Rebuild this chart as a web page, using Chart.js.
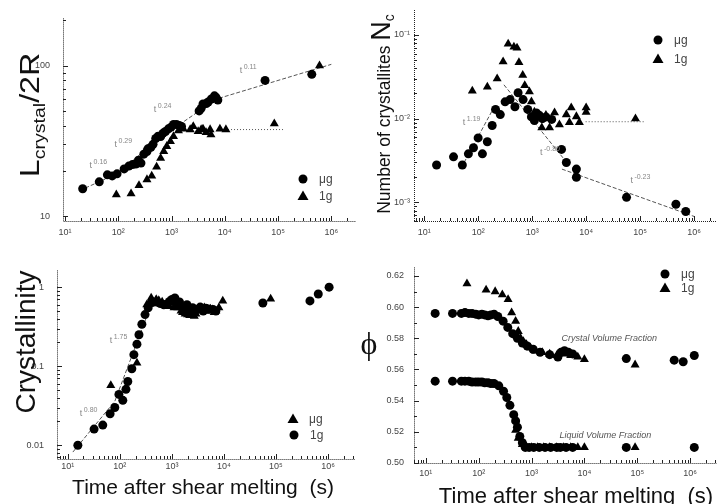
<!DOCTYPE html>
<html>
<head>
<meta charset="utf-8">
<script src="https://cdn.jsdelivr.net/npm/chart.js@4.4.1/dist/chart.umd.min.js"></script>
<style>
  body { margin: 0; background: #fff; width: 722px; height: 504px; position: relative; overflow: hidden; font-family: "Liberation Sans", Arial, sans-serif; }
  canvas { position: absolute; }
  .lab { position: absolute; color: #111; white-space: nowrap; line-height: 1; }
</style>
</head>
<body>
<canvas id="c1" width="361" height="245" style="left:0;top:0"></canvas>
<canvas id="c2" width="361" height="245" style="left:361px;top:0"></canvas>
<canvas id="c3" width="361" height="228" style="left:0;top:252px"></canvas>
<canvas id="c4" width="361" height="228" style="left:361px;top:252px"></canvas>

<div class="lab" style="left:32px;top:115px;font-size:28px;transform:translate(-50%,-50%) rotate(-90deg) scaleX(1.15)">L<sub style="font-size:17px">crystal</sub>/2R</div>
<div class="lab" style="left:382px;top:114px;font-size:17.5px;transform:translate(-50%,-50%) rotate(-90deg)">Number of crystallites <span style="font-size:27px">N</span><sub style="font-size:14px">c</sub></div>
<div class="lab" style="left:26px;top:342px;font-size:28px;transform:translate(-50%,-50%) rotate(-90deg)">Crystallinity</div>
<div class="lab" style="left:369px;top:343px;font-size:32px;font-family:'Liberation Serif',serif;transform:translate(-50%,-50%)">ϕ</div>
<div class="lab" style="left:203px;top:486px;font-size:21px;transform:translate(-50%,-50%)">Time after shear melting&nbsp;&nbsp;(s)</div>
<div class="lab" style="left:576px;top:496px;font-size:22px;transform:translate(-50%,-50%)">Time after shear melting&nbsp;&nbsp;(s)</div>

<script>
const xTickVals = [10, 100, 1000, 10000, 100000, 1000000];
const xTickText = ['10¹', '10²', '10³', '10⁴', '10⁵', '10⁶'];

// panel 1 : L_crystal / 2R
const p1YTicks = [10, 100];
const p1YText = ['10', '100'];
const p1UgT = [21.5, 44, 62.5, 77, 95, 129, 158, 185, 214, 240, 267, 302, 346, 360, 410, 450, 505, 560, 625, 690, 770, 875, 980, 1090, 1240, 1400, 1540, 3300, 3600, 3900, 4500, 4870, 5600, 6400, 6800, 7400, 57000, 430000];
const p1UgL = [15.2, 16.9, 18.8, 18.5, 19.1, 20.6, 21.5, 22, 22.2, 23.5, 22.5, 25.8, 26.9, 28, 28.7, 30, 32.8, 34, 33.8, 35.5, 36.5, 38, 39, 40.6, 40.6, 40, 39.4, 50, 52, 55.6, 56, 57.3, 60, 63, 61.6, 59, 79.8, 87.5];
const p1OneT = [92, 174, 245, 346, 425, 525, 625, 715, 815, 955, 1090, 1350, 1670, 2240, 2560, 3160, 3600, 3900, 4450, 5300, 5500, 8100, 10500, 85000, 600000];
const p1OneL = [13.9, 14.1, 16, 17.5, 18.5, 21.2, 24.3, 26.9, 29.1, 31.4, 33.8, 37, 38, 37.6, 39.4, 36.5, 37.6, 38, 36, 37.6, 34.8, 38, 37.6, 41.1, 100];
const p1FitT = [19, 100, 500, 7000, 1000000];
const p1FitL = [14.8, 19.3, 31.5, 60, 102];
const p1FlatT = [11500, 135000];
const p1FlatL = [37.6, 37.6];

// panel 2 : number of crystallites
const p2YTicks = [0.1, 0.01, 0.001];
const p2YText = ['10⁻¹', '10⁻²', '10⁻³'];
const p2UgT = [17, 35, 51, 66, 82, 100, 120, 148, 182, 210, 257, 316, 390, 480, 550, 680, 830, 970, 1100, 1200, 1350, 1550, 1800, 2300, 3500, 4300, 6600, 6600, 56000, 460000, 700000];
const p2UgN = [0.0028, 0.0035, 0.0028, 0.0038, 0.0045, 0.0059, 0.0038, 0.0053, 0.0083, 0.0129, 0.0112, 0.0159, 0.0169, 0.0139, 0.0204, 0.0169, 0.0129, 0.0105, 0.0095, 0.0117, 0.011, 0.01, 0.0105, 0.0098, 0.0043, 0.003, 0.0025, 0.002, 0.00115, 0.00095, 0.00078];
const p2OneT = [78, 148, 225, 290, 360, 460, 525, 570, 670, 730, 890, 970, 1100, 1380, 1510, 1800, 2100, 2600, 3200, 4300, 4900, 5300, 6600, 7500, 10000, 10000, 82000];
const p2OneN = [0.0215, 0.024, 0.03, 0.048, 0.078, 0.072, 0.07, 0.047, 0.033, 0.025, 0.021, 0.016, 0.012, 0.0105, 0.0078, 0.011, 0.0078, 0.0118, 0.0085, 0.0112, 0.009, 0.0135, 0.0106, 0.009, 0.0135, 0.012, 0.01];
const p2FitAT = [55, 186];
const p2FitAN = [0.003, 0.0128];
const p2FitBT = [300, 4200];
const p2FitBN = [0.0254, 0.0031];
const p2FitCT = [3560, 1000000];
const p2FitCN = [0.0025, 0.00068];
const p2FlatT = [9800, 123000];
const p2FlatN = [0.0092, 0.0092];

// panel 3 : crystallinity
const p3YTicks = [1, 0.1, 0.01];
const p3YText = ['1', '0.1', '0.01'];
const p3UgT = [67, 213, 330, 380, 400, 450, 500, 560, 620, 650, 750, 800, 900, 1100, 1300, 1500, 1600, 1800, 2000, 2200, 2400, 2700, 2900, 3200, 3600, 4200, 4600, 5000, 5500, 6000, 6500, 7000, 8000, 9500, 79000];
const p3UgC = [0.057, 0.11, 0.6, 0.66, 0.73, 0.65, 0.7, 0.68, 0.61, 0.65, 0.6, 0.58, 0.57, 0.55, 0.55, 0.5, 0.48, 0.46, 0.45, 0.44, 0.47, 0.43, 0.46, 0.5, 0.52, 0.55, 0.5, 0.5, 0.53, 0.52, 0.48, 0.5, 0.55, 0.67, 0.71];
const p3OneT = [15.6, 32, 47, 65, 80, 96, 114, 131, 142, 170, 186, 213, 233, 265, 305, 350, 420, 510, 600, 700, 790, 900, 1000, 1140, 1200, 1400, 1700, 1950, 2200, 2500, 3000, 3500, 4000, 4500, 5000, 6200, 7000, 56000, 450000, 650000, 1050000];
const p3OneC = [0.01, 0.016, 0.018, 0.025, 0.03, 0.044, 0.037, 0.051, 0.064, 0.093, 0.14, 0.19, 0.25, 0.34, 0.45, 0.55, 0.64, 0.65, 0.62, 0.6, 0.61, 0.66, 0.7, 0.73, 0.62, 0.65, 0.55, 0.6, 0.5, 0.55, 0.52, 0.56, 0.5, 0.54, 0.53, 0.52, 0.5, 0.63, 0.67, 0.82, 1.0];
const p3FitT = [12.5, 80, 380];
const p3FitC = [0.0082, 0.036, 0.55];

// panel 4 : volume fraction
const p4YTicks = [0.5, 0.52, 0.54, 0.56, 0.58, 0.6, 0.62];
const p4YText = ['0.50', '0.52', '0.54', '0.56', '0.58', '0.60', '0.62'];
const p4UgT = [15, 32, 47, 55, 65, 75, 88, 100, 115, 130, 150, 170, 195, 230, 290, 355, 440, 540, 670, 830, 1070, 1450, 2200, 3150, 3600, 4200, 5000, 6000, 62000, 500000, 740000, 1200000,
               15, 32, 47, 55, 65, 75, 88, 100, 115, 130, 150, 170, 195, 240, 295, 340, 390, 460, 500, 540, 600, 670, 760, 900, 1100, 1400, 1800, 2300, 3000, 3500, 4500, 6000, 62000, 1200000];
const p4UgP = [0.596, 0.596, 0.596, 0.5965, 0.596, 0.596, 0.5955, 0.595, 0.5955, 0.595, 0.5945, 0.595, 0.5955, 0.594, 0.591, 0.587, 0.583, 0.58, 0.577, 0.575, 0.573, 0.571, 0.5695, 0.568, 0.571, 0.572, 0.571, 0.57, 0.567, 0.566, 0.565, 0.569,
               0.5525, 0.5525, 0.5525, 0.5525, 0.5525, 0.552, 0.552, 0.552, 0.552, 0.5515, 0.5515, 0.551, 0.551, 0.5495, 0.546, 0.542, 0.537, 0.531, 0.527, 0.523, 0.517, 0.513, 0.51, 0.51, 0.51, 0.51, 0.51, 0.51, 0.51, 0.51, 0.51, 0.51, 0.51, 0.51];
const p4OneT = [60, 138, 205, 280, 360, 420, 500, 560, 620, 700, 800, 950, 1200, 1600, 2200, 3000, 4000, 5500, 7500, 10000, 91000,
                500, 560, 670, 800, 1000, 1300, 1700, 2200, 3000, 4000, 5500, 7500, 10000, 91000];
const p4OneP = [0.615, 0.611, 0.61, 0.608, 0.605, 0.5965, 0.591, 0.5845, 0.58, 0.578, 0.576, 0.574, 0.572, 0.571, 0.57, 0.569, 0.57, 0.569, 0.568, 0.5665, 0.563,
                0.521, 0.516, 0.512, 0.5105, 0.51, 0.51, 0.51, 0.51, 0.51, 0.51, 0.51, 0.51, 0.51, 0.51];

function pts(xs, ys) { return xs.map((x, i) => ({ x: x, y: ys[i] })); }

function marks(label, xs, ys, shape) {
  return { type: 'scatter', label: label, data: pts(xs, ys), pointStyle: shape, pointRadius: shape === 'triangle' ? 5.2 : 4.5,
           backgroundColor: '#000', borderColor: '#000', borderWidth: 0 };
}
function fit(xs, ys, dash) {
  return { type: 'line', label: '', data: pts(xs, ys), borderColor: '#555', borderWidth: 1, borderDash: dash || [4, 2],
           pointRadius: 0, fill: false, tension: 0 };
}

function axis(kind, min, max, vals, texts, pad, fitFn) {
  return {
    type: kind, min: min, max: max,
    grid: { display: false, drawTicks: false },
    border: { display: false },
    afterBuildTicks: s => { s.ticks = vals.map(v => ({ value: v })); },
    afterFit: fitFn,
    ticks: {
      autoSkip: false, maxRotation: 0, padding: pad, color: '#444',
      font: { family: 'Liberation Sans', size: 9 },
      callback: v => { const i = vals.findIndex(u => Math.abs(u - v) < Math.abs(u) * 1e-6); return i < 0 ? '' : texts[i]; }
    }
  };
}

function tickList(s) {
  const out = [];
  if (s.type === 'logarithmic') {
    for (let e = Math.floor(Math.log10(s.min)); e <= Math.ceil(Math.log10(s.max)); e++)
      for (let k = 1; k < 10; k++) {
        const v = k * Math.pow(10, e);
        if (v >= s.min && v <= s.max) out.push([v, k === 1]);
      }
  } else {
    for (let n = 50; n <= 62; n++) out.push([n / 100, n % 2 === 0]);
  }
  return out;
}

const deco = {
  id: 'deco',
  afterDraw(chart, args, o) {
    const ctx = chart.ctx, a = chart.chartArea, xs = chart.scales.x, ys = chart.scales.y;
    ctx.save();
    ctx.strokeStyle = '#222';
    ctx.lineWidth = 1;
    ctx.setLineDash([1, 1]);
    ctx.beginPath();
    ctx.moveTo(a.left + 0.5, a.top);
    ctx.lineTo(a.left + 0.5, a.bottom + 0.5);
    ctx.lineTo(a.right, a.bottom + 0.5);
    ctx.stroke();
    ctx.setLineDash([]);
    ctx.beginPath();
    tickList(xs).forEach(([v, major]) => {
      const p = Math.round(xs.getPixelForValue(v)) + 0.5;
      ctx.moveTo(p, a.bottom);
      ctx.lineTo(p, a.bottom - (major ? 5 : 3));
    });
    tickList(ys).forEach(([v, major]) => {
      const p = Math.round(ys.getPixelForValue(v)) + 0.5;
      ctx.moveTo(a.left, p);
      ctx.lineTo(a.left + (major ? 5 : 3), p);
    });
    ctx.stroke();

    // legend
    (o.legend || []).forEach(it => {
      ctx.fillStyle = '#000';
      ctx.beginPath();
      if (it.shape === 'circle') ctx.arc(it.x, it.y, 4.5, 0, Math.PI * 2);
      else { ctx.moveTo(it.x, it.y - 5.5); ctx.lineTo(it.x + 5.5, it.y + 4); ctx.lineTo(it.x - 5.5, it.y + 4); ctx.closePath(); }
      ctx.fill();
      ctx.fillStyle = '#444';
      ctx.font = '12px "Liberation Sans"';
      ctx.textBaseline = 'middle';
      ctx.textAlign = 'left';
      ctx.fillText(it.text, it.x + 16, it.y + 1);
    });

    // power-law notes
    (o.notes || []).forEach(n => {
      const px = xs.getPixelForValue(n.t), py = ys.getPixelForValue(n.v);
      ctx.fillStyle = '#888';
      ctx.textBaseline = 'alphabetic';
      ctx.textAlign = 'left';
      ctx.font = '9px "Liberation Sans"';
      ctx.fillText('t', px, py);
      ctx.font = '7px "Liberation Sans"';
      ctx.fillText(n.s, px + 4, py - 4);
    });

    // text notes
    (o.texts || []).forEach(n => {
      ctx.fillStyle = '#555';
      ctx.textBaseline = 'middle';
      ctx.textAlign = 'center';
      ctx.font = 'italic 9px "Liberation Sans"';
      ctx.fillText(n.text, xs.getPixelForValue(n.t), ys.getPixelForValue(n.v));
    });
    ctx.restore();
  }
};

function makeChart(id, datasets, cfg) {
  return new Chart(document.getElementById(id), {
    data: { datasets: datasets },
    options: {
      responsive: false, animation: false, events: [],
      layout: { padding: { left: 0, top: cfg.top, right: cfg.right, bottom: 0 } },
      scales: {
        x: axis('logarithmic', cfg.xmin, cfg.xmax, xTickVals, xTickText, cfg.xpad, s => { s.height = cfg.xh; }),
        y: axis(cfg.ytype, cfg.ymin, cfg.ymax, cfg.yvals, cfg.ytext, cfg.ypad, s => { s.width = cfg.yw; })
      },
      plugins: { legend: { display: false }, tooltip: { enabled: false }, deco: cfg.deco }
    },
    plugins: [deco]
  });
}

makeChart('c1', [
  marks('μg', p1UgT, p1UgL, 'circle'),
  marks('1g', p1OneT, p1OneL, 'triangle'),
  fit(p1FitT, p1FitL),
  fit(p1FlatT, p1FlatL, [1, 2])
], {
  top: 15, right: 1, xh: 24, yw: 63, xpad: 6, ypad: 13,
  xmin: 9.18, xmax: 2.88e6, ytype: 'logarithmic', ymin: 9.28, ymax: 206, yvals: p1YTicks, ytext: p1YText,
  deco: {
    legend: [{ shape: 'circle', x: 303, y: 179, text: 'μg' }, { shape: 'triangle', x: 303, y: 196, text: '1g' }],
    notes: [{ t: 29, v: 21, s: '0.16' }, { t: 85, v: 29, s: '0.29' }, { t: 465, v: 49, s: '0.24' }, { t: 19000, v: 90, s: '0.11' }]
  }
});

makeChart('c2', [
  marks('μg', p2UgT, p2UgN, 'circle'),
  marks('1g', p2OneT, p2OneN, 'triangle'),
  fit(p2FitAT, p2FitAN),
  fit(p2FitBT, p2FitBN),
  fit(p2FitCT, p2FitCN),
  fit(p2FlatT, p2FlatN, [1, 2])
], {
  top: 10, right: 1, xh: 24, yw: 53, xpad: 6, ypad: 4,
  xmin: 6.49, xmax: 2.63e6, ytype: 'logarithmic', ymin: 6.1e-4, ymax: 0.1986, yvals: p2YTicks, ytext: p2YText,
  deco: {
    legend: [{ shape: 'circle', x: 297, y: 40, text: 'μg' }, { shape: 'triangle', x: 297, y: 59, text: '1g' }],
    notes: [{ t: 52, v: 0.0085, s: '1.19' }, { t: 1400, v: 0.0037, s: '-0.80' }, { t: 66000, v: 0.0017, s: '-0.23' }]
  }
});

makeChart('c3', [
  marks('μg', p3UgT, p3UgC, 'triangle'),
  marks('1g', p3OneT, p3OneC, 'circle'),
  fit(p3FitT, p3FitC)
], {
  top: 15, right: 6, xh: 21, yw: 57, xpad: 2, ypad: 13,
  xmin: 6.2, xmax: 3.3e6, ytype: 'logarithmic', ymin: 0.0067, ymax: 1.63, yvals: p3YTicks, ytext: p3YText,
  deco: {
    legend: [{ shape: 'triangle', x: 293, y: 167, text: 'μg' }, { shape: 'circle', x: 294, y: 183, text: '1g' }],
    notes: [{ t: 17, v: 0.0235, s: '0.80' }, { t: 64, v: 0.195, s: '1.75' }]
  }
});

makeChart('c4', [
  marks('μg', p4UgT, p4UgP, 'circle'),
  marks('1g', p4OneT, p4OneP, 'triangle')
], {
  top: 3, right: 1, xh: 17, yw: 53, xpad: 5, ypad: 10,
  xmin: 5.97, xmax: 3.2e6, ytype: 'linear', ymin: 0.5, ymax: 0.6255, yvals: p4YTicks, ytext: p4YText,
  deco: {
    legend: [{ shape: 'circle', x: 304, y: 22, text: 'μg' }, { shape: 'triangle', x: 304, y: 36, text: '1g' }],
    texts: [{ text: 'Crystal Volume Fraction', t: 29500, v: 0.5796 }, { text: 'Liquid Volume Fraction', t: 25000, v: 0.5175 }]
  }
});
</script>
</body>
</html>
